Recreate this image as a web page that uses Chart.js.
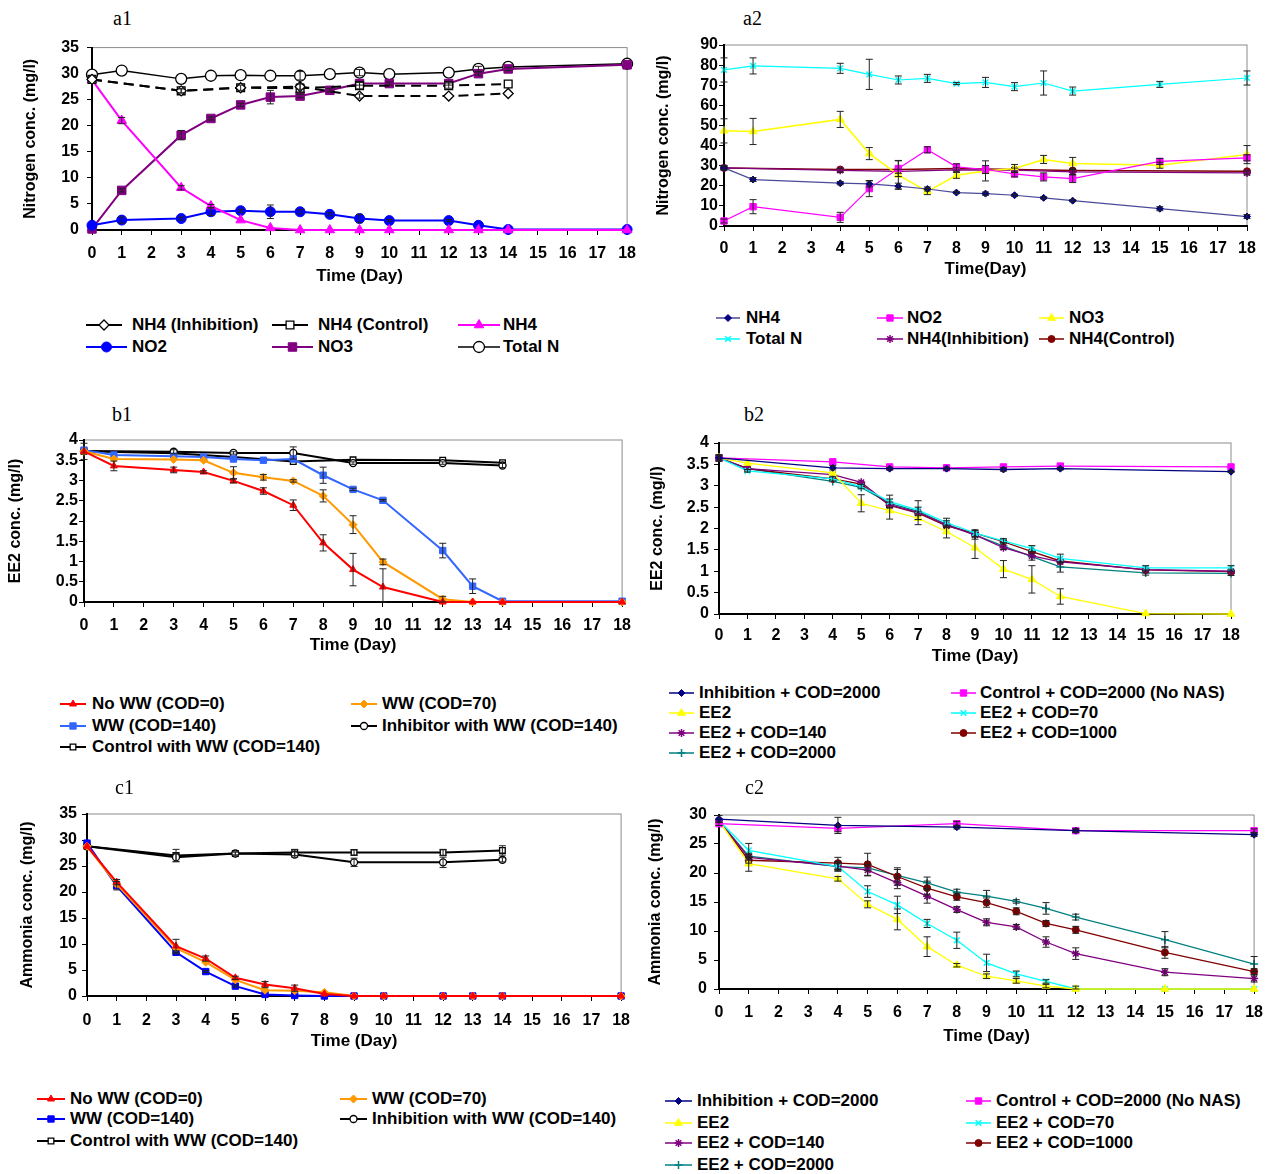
<!DOCTYPE html>
<html>
<head>
<meta charset="utf-8">
<script src="https://cdn.jsdelivr.net/npm/chart.js@4.4.0/dist/chart.umd.min.js"></script>
<style>
body { margin: 0; background: #fff; }
#page { position: relative; width: 1272px; height: 1174px; overflow: hidden; font-family: 'Liberation Sans', Arial, sans-serif; }
.box { position: absolute; }
.tag { position: absolute; font-family: 'Liberation Serif', 'Times New Roman', serif; font-size: 20px; line-height: 20px; }
.lg { position: absolute; font-weight: bold; white-space: nowrap; line-height: 18px; font-size: 17px; color: #000; }
.sw { position: absolute; }
</style>
</head>
<body>
<div id="page"></div>
<script>
// days
const daysLong = [0, 1, 3, 4, 5, 6, 7, 8, 9, 10, 12, 13, 14, 18]
const daysCtrl = [0, 3, 5, 7, 9, 12, 14]
const daysShort = [0, 1, 4, 5, 6, 7, 8, 9, 10, 11, 12, 15, 18]
const daysA2Ctrl = [0, 4, 6, 8, 10, 12, 18]
const daysB2Ctrl = [0, 4, 6, 8, 10, 12, 18]
const daysC2Ctrl = [0, 4, 8, 12, 18]

// a1 - nitrogen
const a1Inhib = [28.9, 26.7, 27.3, 27.5, 25.7, 25.7, 26.2]
const a1Ctrl = [28.9, 26.7, 27.3, 27.2, 27.7, 27.7, 28.0]
const a1Nh4 = [28.8, 21.0, 8.1, 4.6, 1.9, 0.4, 0, 0, 0, 0, 0, 0, 0, 0]
const a1No2 = [0.9, 1.9, 2.2, 3.5, 3.7, 3.5, 3.5, 3.0, 2.2, 1.8, 1.8, 0.9, 0.1, 0.1]
const a1No3 = [0.2, 7.6, 18.2, 21.4, 24.0, 25.5, 25.7, 26.8, 28.1, 28.1, 28.1, 30.0, 30.9, 31.7]
const a1TotalN = [29.8, 30.6, 29.0, 29.6, 29.7, 29.6, 29.6, 29.9, 30.2, 29.9, 30.2, 30.9, 31.3, 31.9]
const a1InhibErr = [0, 0.4, 0, 0.5, 0.4, 0, 0]
const a1CtrlErr = [0, 0.4, 0.5, 0.9, 0.6, 0.5, 0]
const a1Nh4Err = [0, 0.6, 0.4, 0.3, 0, 0, 0, 0, 0, 0, 0, 0, 0, 0]
const a1No2Err = [0, 0.6, 0.3, 0.7, 0.3, 1.3, 0.4, 0.3, 0.8, 0.2, 0.2, 0, 0, 0]
const a1No3Err = [0, 0.3, 0.9, 0.3, 0.3, 1.3, 0.3, 0.3, 0.3, 0.3, 0.3, 0.3, 0.3, 0]
const a1TotalNErr = [0, 0, 0, 0, 0, 0, 0.8, 0, 0.6, 0, 0, 0.5, 0, 0]

// a2 - nitrogen
const a2Nh4 = [28.9, 23.1, 21.3, 20.9, 19.8, 18.4, 16.6, 16.1, 15.3, 14.0, 12.6, 8.6, 4.7]
const a2No2 = [2.5, 9.6, 4.3, 18.6, 28.6, 37.9, 29.4, 28.1, 25.9, 24.4, 23.6, 32.1, 33.9]
const a2No3 = [47.3, 47.0, 53.0, 36.0, 25.4, 17.1, 25.2, 27.4, 28.6, 33.1, 31.1, 30.2, 35.5]
const a2TotalN = [77.6, 79.6, 78.4, 75.4, 72.6, 73.4, 70.8, 71.4, 69.3, 71.1, 67.1, 70.4, 73.6]
const a2Inhib = [28.9, 27.7, 27.2, 27.9, 27.8, 26.9, 26.4]
const a2Ctrl = [28.9, 28.1, 28.1, 28.6, 28.1, 27.6, 27.2]
const a2Nh4Err = [1, 1, 0.8, 1.5, 1.5, 1, 0.5, 0.8, 0.5, 0.5, 0.5, 1, 1]
const a2No2Err = [1, 3.5, 2.5, 4, 4, 1.5, 1.5, 2, 1.5, 2, 2, 1.5, 1.5]
const a2No3Err = [6, 6.5, 4, 3, 7, 1.5, 1.5, 5, 2, 2, 3, 1.5, 4.5]
const a2TotalNErr = [6, 4, 2.5, 7.5, 2, 2, 0.5, 2.5, 2, 6, 2, 1.5, 3.5]
const a2InhibErr = [1, 1, 1, 1, 1, 1.5, 1]

// b1 - EE2
const b1NoWW = [3.72, 3.36, 3.26, 3.21, 2.99, 2.74, 2.39, 1.46, 0.80, 0.37, 0.0, 0, 0, 0]
const b1WW70 = [3.72, 3.53, 3.52, 3.50, 3.19, 3.08, 2.99, 2.62, 1.91, 0.99, 0.07, 0, 0, 0]
const b1WW140 = [3.75, 3.63, 3.60, 3.58, 3.53, 3.50, 3.53, 3.13, 2.78, 2.51, 1.27, 0.39, 0.02, 0.02]
const b1Inhib = [3.73, 3.71, 3.68, 3.68, 3.43, 3.43, 3.37]
const b1Ctrl = [3.72, 3.67, 3.58, 3.47, 3.51, 3.50, 3.44]
const b1NoWWErr = [0, 0.12, 0.07, 0.03, 0.05, 0.08, 0.13, 0.2, 0.4, 0.45, 0, 0, 0, 0]
const b1WW70Err = [0.2, 0, 0, 0, 0.15, 0.07, 0.03, 0.15, 0.22, 0.07, 0.07, 0, 0, 0]
const b1WW140Err = [0, 0, 0, 0, 0, 0, 0, 0.2, 0.03, 0.02, 0.18, 0.18, 0, 0]
const b1InhibErr = [0, 0.05, 0.03, 0.15, 0.03, 0.03, 0.05]

// b2 - EE2
const b2Inhib = [3.65, 3.42, 3.40, 3.40, 3.38, 3.40, 3.33]
const b2Ctrl = [3.65, 3.56, 3.44, 3.42, 3.44, 3.46, 3.44]
const b2EE2 = [3.65, 3.53, 3.30, 2.59, 2.42, 2.24, 1.93, 1.55, 1.05, 0.81, 0.41, 0.01, 0]
const b2Cod70 = [3.65, 3.35, 3.16, 2.98, 2.63, 2.43, 2.14, 1.89, 1.71, 1.53, 1.30, 1.08, 1.08]
const b2Cod140 = [3.65, 3.40, 3.26, 3.08, 2.55, 2.38, 2.08, 1.85, 1.55, 1.36, 1.22, 1.04, 1.00]
const b2Cod1000 = [3.65, 3.40, 3.16, 3.04, 2.54, 2.36, 2.06, 1.89, 1.69, 1.46, 1.24, 1.03, 0.99]
const b2Cod2000 = [3.65, 3.40, 3.10, 2.96, 2.59, 2.40, 2.10, 1.85, 1.59, 1.34, 1.10, 0.96, 0.95]
const b2InhibErr = [0.05, 0.05, 0.03, 0.03, 0.04, 0.03, 0.02]
const b2EE2Err = [0.05, 0, 0, 0.2, 0.2, 0.15, 0.15, 0.25, 0.2, 0.32, 0.18, 0, 0]
const b2Cod70Err = [0.08, 0.03, 0.05, 0.05, 0.15, 0.22, 0.1, 0.08, 0.05, 0.07, 0.1, 0.05, 0.05]
const b2Cod2000Err = [0, 0, 0, 0, 0.1, 0.1, 0.08, 0.1, 0.08, 0.08, 0.12, 0.05, 0.05]

// c1 - ammonia
const c1NoWW = [28.8, 21.9, 9.6, 7.2, 3.5, 2.2, 1.5, 0.4, 0, 0, 0, 0, 0, 0]
const c1WW70 = [28.8, 21.5, 9.2, 6.5, 3.1, 1.1, 1.0, 0.7, 0, 0, 0, 0, 0, 0]
const c1WW140 = [29.4, 21.2, 8.4, 4.7, 1.9, 0.3, 0.1, 0, 0, 0, 0, 0, 0, 0]
const c1Inhib = [28.8, 26.7, 27.4, 27.2, 25.7, 25.7, 26.2]
const c1Ctrl = [28.8, 27.0, 27.4, 27.6, 27.6, 27.6, 28.0]
const c1NoWWErr = [0, 0.5, 1.3, 0.5, 0.3, 0.6, 0.6, 0, 0, 0, 0, 0, 0, 0]
const c1WW140Err = [0, 0.8, 0.3, 0.2, 0.2, 0, 0, 0, 0, 0, 0, 0, 0, 0]
const c1InhibErr = [0, 0.8, 0.3, 0.5, 0.8, 1.0, 0.4]
const c1CtrlErr = [0, 1.2, 0.3, 0.6, 0.5, 0.6, 0.9]

// c2 - ammonia
const c2Inhib = [29.3, 28.2, 27.9, 27.3, 26.6]
const c2Ctrl = [28.5, 27.7, 28.5, 27.3, 27.3]
const c2EE2 = [29.0, 21.6, 19.0, 14.6, 12.0, 7.3, 4.1, 2.2, 1.4, 0.5, 0, 0, 0]
const c2Cod70 = [29.0, 23.9, 21.1, 16.8, 14.5, 11.3, 8.4, 4.5, 2.6, 1.3, 0, 0, 0]
const c2Cod140 = [29.0, 22.7, 21.2, 20.5, 18.3, 16.0, 13.7, 11.5, 10.7, 8.1, 6.1, 2.9, 1.8]
const c2Cod1000 = [29.0, 22.2, 21.7, 21.5, 19.4, 17.4, 15.9, 14.9, 13.4, 11.3, 10.2, 6.3, 3.0]
const c2Cod2000 = [29.0, 22.9, 21.1, 20.9, 19.6, 18.3, 16.7, 16.0, 15.1, 13.9, 12.4, 8.5, 4.3]
const c2InhibErr = [0.6, 1.4, 0.3, 0.3, 0.3]
const c2CtrlErr = [0.3, 0.6, 0.4, 0.3, 0.3]
const c2EE2Err = [0, 1.3, 0.4, 0.6, 1.8, 1.7, 0.3, 0.4, 0.4, 0.3, 0, 0, 0]
const c2Cod70Err = [0, 1.2, 0.8, 1.0, 1.5, 0.7, 1.4, 1.5, 0.5, 0.3, 0.5, 0, 0]
const c2Cod140Err = [0, 0.5, 0.8, 1.0, 1.0, 1.2, 0.5, 0.6, 0.4, 0.9, 1.0, 0.6, 0.6]
const c2Cod1000Err = [0, 0.5, 1.0, 1.9, 1.5, 1.2, 0.6, 0.8, 0.6, 0.5, 0.6, 1.0, 0.5]
const c2Cod2000Err = [0, 0.5, 0.5, 0.5, 1.0, 1.0, 0.5, 1.0, 0.3, 1.0, 0.5, 1.4, 1.3]

/* ------------------------------------ */

const page = document.getElementById('page')
Chart.defaults.font.family = "'Liberation Sans', Arial, sans-serif"
Chart.defaults.color = '#000'

function pts(days, vals) {
    return days.map((d, i) => ({ x: d, y: vals[i] }))
}

function serie(label, days, vals, err, color, shape, r, w, extra) {
    return Object.assign({
        label: label,
        data: pts(days, vals),
        err: err,
        borderColor: color,
        backgroundColor: color,
        pointBackgroundColor: color,
        pointBorderColor: color,
        pointStyle: shape,
        pointRadius: r,
        pointBorderWidth: 1,
        borderWidth: w,
        tension: 0,
        clip: false
    }, extra || {})
}

const openMark = { pointBackgroundColor: '#fff', pointBorderColor: '#000', pointBorderWidth: 1.3 }
const strokeMark = { pointBorderWidth: 1.5 }

// grey frame around plot area
const frame = {
    id: 'frame',
    beforeDraw(chart) {
        const a = chart.chartArea
        const ctx = chart.ctx
        ctx.save()
        ctx.strokeStyle = '#8c8c8c'
        ctx.lineWidth = 1
        ctx.strokeRect(a.left, a.top, a.right - a.left, a.bottom - a.top)
        ctx.restore()
    }
}

const errorBars = {
    id: 'errorBars',
    afterDatasetsDraw(chart) {
        const ctx = chart.ctx
        const ys = chart.scales.y
        const a = chart.chartArea
        chart.data.datasets.forEach((ds, i) => {
            if (!ds.err) return
            const meta = chart.getDatasetMeta(i)
            ctx.save()
            ctx.strokeStyle = '#222'
            ctx.lineWidth = 1
            meta.data.forEach((p, j) => {
                const e = ds.err[j]
                if (!e) return
                const v = ds.data[j].y
                const top = ys.getPixelForValue(v + e)
                const bot = Math.min(ys.getPixelForValue(v - e), a.bottom)
                ctx.beginPath()
                ctx.moveTo(p.x, top); ctx.lineTo(p.x, bot)
                ctx.moveTo(p.x - 3.5, top); ctx.lineTo(p.x + 3.5, top)
                ctx.moveTo(p.x - 3.5, bot); ctx.lineTo(p.x + 3.5, bot)
                ctx.stroke()
            })
            ctx.restore()
        })
    }
}

function panel(cfg) {
    const b = cfg.box
    const div = document.createElement('div')
    div.className = 'box'
    div.style.left = b.left + 'px'
    div.style.top = b.top + 'px'
    div.style.width = b.width + 'px'
    div.style.height = b.height + 'px'
    const cv = document.createElement('canvas')
    div.appendChild(cv)
    page.appendChild(div)

    const yW = b.plotLeft - b.left
    const xH = b.top + b.height - b.plotBottom

    const chart = new Chart(cv, {
        type: 'line',
        data: { datasets: cfg.datasets },
        options: {
            responsive: true,
            maintainAspectRatio: false,
            animation: false,
            layout: { padding: { top: b.plotTop - b.top, right: b.left + b.width - b.plotRight, left: 0, bottom: 0 } },
            plugins: { legend: { display: false }, tooltip: { enabled: false } },
            scales: {
                x: {
                    type: 'linear', min: 0, max: 18,
                    afterFit: s => { s.height = xH },
                    ticks: { stepSize: 1, autoSkip: false, maxRotation: 0, padding: cfg.xPad, font: { size: 16, weight: 'bold' } },
                    grid: { display: true, drawOnChartArea: false, tickLength: 5, color: '#000' },
                    border: { color: '#000', width: 2 },
                    title: { display: true, text: cfg.xTitle, padding: 0, font: { size: 17, weight: 'bold' } }
                },
                y: {
                    min: 0, max: cfg.yMax,
                    afterFit: s => { s.width = yW },
                    ticks: { stepSize: cfg.yStep, autoSkip: false, padding: cfg.yPad, font: { size: 16, weight: 'bold' }, callback: v => String(v) },
                    grid: { display: true, drawOnChartArea: false, tickLength: 5, color: '#000' },
                    border: { color: '#000', width: 2 },
                    title: { display: true, text: cfg.yTitle, padding: 0, font: { size: 16, weight: 'bold' } }
                }
            }
        },
        plugins: [frame, errorBars]
    })

    const tag = document.createElement('div')
    tag.className = 'tag'
    tag.textContent = cfg.tag[0]
    tag.style.left = cfg.tag[1] + 'px'
    tag.style.top = cfg.tag[2] + 'px'
    page.appendChild(tag)

    // legend: [swatch x, swatch width, text x, row centre y]
    chart.data.datasets.forEach((ds, i) => {
        const it = cfg.legend[i]
        const c = document.createElement('canvas')
        c.className = 'sw'
        c.width = it[1]
        c.height = 16
        c.style.left = it[0] + 'px'
        c.style.top = (it[3] - 8) + 'px'
        const ctx = c.getContext('2d')
        ctx.strokeStyle = ds.borderColor
        ctx.lineWidth = Math.max(ds.borderWidth, 1.5)
        ctx.beginPath()
        ctx.moveTo(0, 8)
        ctx.lineTo(it[1], 8)
        ctx.stroke()
        ctx.fillStyle = ds.pointBackgroundColor
        ctx.strokeStyle = ds.pointBorderColor
        ctx.lineWidth = ds.pointBorderWidth
        Chart.helpers.drawPoint(ctx, { pointStyle: ds.pointStyle, radius: ds.pointRadius, rotation: 0, borderWidth: ds.pointBorderWidth }, it[1] / 2, 8)
        page.appendChild(c)

        const t = document.createElement('div')
        t.className = 'lg'
        t.textContent = ds.label
        t.style.left = it[2] + 'px'
        t.style.top = (it[3] - 9) + 'px'
        page.appendChild(t)
    })
    return chart
}

/* ------------------------------------ */

const dash = { borderDash: [10, 6] }

panel({
    tag: ['a1', 113, 8],
    box: { left: 21, top: 30, width: 624, height: 257, plotLeft: 92, plotTop: 43, plotRight: 635, plotBottom: 230 },
    yMax: 35, yStep: 5, xPad: 9, yPad: 8,
    xTitle: 'Time (Day)', yTitle: 'Nitrogen conc. (mg/l)',
    datasets: [
        serie('NH4 (Inhibition)', daysCtrl, a1Inhib, a1InhibErr, '#000', 'rectRot', 5, 2, Object.assign({}, openMark, dash)),
        serie('NH4 (Control)', daysCtrl, a1Ctrl, a1CtrlErr, '#000', 'rect', 5.5, 2, Object.assign({}, openMark, dash)),
        serie('NH4', daysLong, a1Nh4, a1Nh4Err, '#ff00ff', 'triangle', 5.5, 2),
        serie('NO2', daysLong, a1No2, a1No2Err, '#0000ff', 'circle', 5, 2),
        serie('NO3', daysLong, a1No3, a1No3Err, '#800080', 'rect', 6, 2),
        serie('Total N', daysLong, a1TotalN, a1TotalNErr, '#000', 'circle', 5.5, 1.5, openMark)
    ],
    legend: [
        [86, 36, 132, 325], [272, 36, 318, 325], [458, 42, 503, 325],
        [86, 41, 132, 347], [272, 41, 318, 347], [458, 42, 503, 347]
    ]
})

panel({
    tag: ['a2', 743, 8],
    box: { left: 654, top: 30, width: 618, height: 250, plotLeft: 724, plotTop: 45, plotRight: 1247, plotBottom: 226 },
    yMax: 90, yStep: 10, xPad: 8, yPad: 1,
    xTitle: 'Time(Day)', yTitle: 'Nitrogen conc. (mg/l)',
    datasets: [
        serie('NH4', daysShort, a2Nh4, a2Nh4Err, '#000080', 'rectRot', 3.5, 1.2, { borderColor: '#4a4a9a' }),
        serie('NO2', daysShort, a2No2, a2No2Err, '#ff00ff', 'rect', 4.5, 1.2),
        serie('NO3', daysShort, a2No3, a2No3Err, '#ffff00', 'triangle', 4.5, 1.5),
        serie('Total N', daysShort, a2TotalN, a2TotalNErr, '#00ffff', 'crossRot', 4, 1.2, strokeMark),
        serie('NH4(Inhibition)', daysA2Ctrl, a2Inhib, a2InhibErr, '#800080', 'star', 4, 1.2, strokeMark),
        serie('NH4(Control)', daysA2Ctrl, a2Ctrl, null, '#800000', 'circle', 3.5, 1.5)
    ],
    legend: [
        [716, 24, 746, 318], [877, 26, 907, 318], [1039, 25, 1069, 318],
        [716, 24, 746, 339], [877, 26, 907, 339], [1039, 25, 1069, 339]
    ]
})

panel({
    tag: ['b1', 112, 404],
    box: { left: 6, top: 425, width: 634, height: 231, plotLeft: 84, plotTop: 440, plotRight: 623, plotBottom: 602 },
    yMax: 4, yStep: 0.5, xPad: 9, yPad: 1,
    xTitle: 'Time (Day)', yTitle: 'EE2 conc. (mg/l)',
    datasets: [
        serie('No WW (COD=0)', daysLong, b1NoWW, b1NoWWErr, '#ff0000', 'triangle', 4, 2),
        serie('WW (COD=70)', daysLong, b1WW70, b1WW70Err, '#ff9900', 'rectRot', 4, 2),
        serie('WW (COD=140)', daysLong, b1WW140, b1WW140Err, '#3366ff', 'rect', 4.5, 2),
        serie('Inhibitor with WW (COD=140)', daysCtrl, b1Inhib, b1InhibErr, '#000', 'circle', 3.5, 2, openMark),
        serie('Control with WW (COD=140)', daysCtrl, b1Ctrl, null, '#000', 'rect', 4, 2, openMark)
    ],
    legend: [
        [60, 26, 92, 704], [351, 26, 382, 704],
        [60, 26, 92, 726], [351, 26, 382, 726],
        [60, 26, 92, 747]
    ]
})

panel({
    tag: ['b2', 744, 404],
    box: { left: 648, top: 425, width: 624, height: 242, plotLeft: 719, plotTop: 443, plotRight: 1231, plotBottom: 614 },
    yMax: 4, yStep: 0.5, xPad: 7, yPad: 5,
    xTitle: 'Time (Day)', yTitle: 'EE2 conc. (mg/l)',
    datasets: [
        serie('Inhibition + COD=2000', daysB2Ctrl, b2Inhib, b2InhibErr, '#000080', 'rectRot', 3.5, 1.3),
        serie('Control + COD=2000 (No NAS)', daysB2Ctrl, b2Ctrl, null, '#ff00ff', 'rect', 4.5, 1.3),
        serie('EE2', daysShort, b2EE2, b2EE2Err, '#ffff00', 'triangle', 4.5, 1.3),
        serie('EE2 + COD=70', daysShort, b2Cod70, b2Cod70Err, '#00ffff', 'crossRot', 4, 1.3, strokeMark),
        serie('EE2 + COD=140', daysShort, b2Cod140, null, '#800080', 'star', 4, 1.3, strokeMark),
        serie('EE2 + COD=1000', daysShort, b2Cod1000, null, '#800000', 'circle', 3.5, 1.3),
        serie('EE2 + COD=2000', daysShort, b2Cod2000, b2Cod2000Err, '#008080', 'cross', 4, 1.3, strokeMark)
    ],
    legend: [
        [669, 25, 699, 693], [951, 25, 980, 693],
        [669, 25, 699, 713], [951, 25, 980, 713],
        [669, 25, 699, 733], [951, 25, 980, 733],
        [669, 25, 699, 753]
    ]
})

panel({
    tag: ['c1', 115, 777],
    box: { left: 18, top: 795, width: 622, height: 257, plotLeft: 87, plotTop: 814, plotRight: 623, plotBottom: 996 },
    yMax: 35, yStep: 5, xPad: 10, yPad: 5,
    xTitle: 'Time (Day)', yTitle: 'Ammonia conc. (mg/l)',
    datasets: [
        serie('No WW (COD=0)', daysLong, c1NoWW, c1NoWWErr, '#ff0000', 'triangle', 4, 2),
        serie('WW (COD=70)', daysLong, c1WW70, null, '#ff9900', 'rectRot', 4, 2),
        serie('WW (COD=140)', daysLong, c1WW140, c1WW140Err, '#0000ff', 'rect', 4.5, 2),
        serie('Inhibition with WW (COD=140)', daysCtrl, c1Inhib, c1InhibErr, '#000', 'circle', 3.5, 2, openMark),
        serie('Control with WW (COD=140)', daysCtrl, c1Ctrl, c1CtrlErr, '#000', 'rect', 4, 2, openMark)
    ],
    legend: [
        [37, 28, 70, 1099], [340, 27, 372, 1099],
        [37, 28, 70, 1119], [340, 27, 372, 1119],
        [37, 28, 70, 1141]
    ]
})

panel({
    tag: ['c2', 745, 777],
    box: { left: 646, top: 795, width: 626, height: 252, plotLeft: 719, plotTop: 815, plotRight: 1259, plotBottom: 989 },
    yMax: 30, yStep: 5, xPad: 9, yPad: 7,
    xTitle: 'Time (Day)', yTitle: 'Ammonia conc. (mg/l)',
    datasets: [
        serie('Inhibition + COD=2000', daysC2Ctrl, c2Inhib, c2InhibErr, '#000080', 'rectRot', 3.5, 1.3),
        serie('Control + COD=2000 (No NAS)', daysC2Ctrl, c2Ctrl, c2CtrlErr, '#ff00ff', 'rect', 4.5, 1.3),
        serie('EE2', daysShort, c2EE2, c2EE2Err, '#ffff00', 'triangle', 4.5, 1.3),
        serie('EE2 + COD=70', daysShort, c2Cod70, c2Cod70Err, '#00ffff', 'crossRot', 4, 1.3, strokeMark),
        serie('EE2 + COD=140', daysShort, c2Cod140, c2Cod140Err, '#800080', 'star', 4, 1.3, strokeMark),
        serie('EE2 + COD=1000', daysShort, c2Cod1000, c2Cod1000Err, '#800000', 'circle', 3.5, 1.3),
        serie('EE2 + COD=2000', daysShort, c2Cod2000, c2Cod2000Err, '#008080', 'cross', 4, 1.3, strokeMark)
    ],
    legend: [
        [665, 27, 697, 1101], [966, 25, 996, 1101],
        [665, 27, 697, 1123], [966, 25, 996, 1123],
        [665, 27, 697, 1143], [966, 25, 996, 1143],
        [665, 27, 697, 1165]
    ]
})
</script>
</body>
</html>
